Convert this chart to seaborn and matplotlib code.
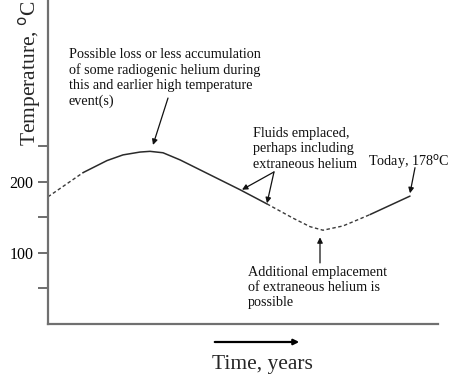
import matplotlib
matplotlib.use("Agg")
import matplotlib.pyplot as plt
import seaborn as sns
import pandas as pd

# ---- data (time in arbitrary units, temperature in degC) ----
time = [0, 35, 59, 75, 92, 102, 115, 132, 152, 192, 219, 232, 245, 262, 275, 295, 312, 322, 342, 362]
temp = [179, 213, 230, 238, 242, 243, 241, 231, 217, 189, 169, 159, 149, 137, 132, 138, 148, 154, 167, 180]
# segment boundaries (indices into the arrays) and their style
seg_bounds = [(0, 1), (1, 10), (10, 17), (17, 19)]
seg_style = ["dashed", "solid", "dashed", "solid"]

ytick_vals = [50, 100, 150, 200, 250]
ytick_labels = ["", "100", "", "200", ""]

sns.set_theme(style="white")
plt.rcParams["font.family"] = ["Liberation Serif", "DejaVu Serif"]

fig = plt.figure(figsize=(4.56, 3.86), dpi=100)
ax = fig.add_axes([48 / 456, 1 - 324 / 386, 390 / 456, 324 / 386])

df = pd.DataFrame({"time": time, "temp": temp})
for (a, b), st in zip(seg_bounds, seg_style):
    sub = df.iloc[a:b + 1]
    if st == "dashed":
        sns.lineplot(data=sub, x="time", y="temp", ax=ax, color="#3a3a3a",
                     lw=1.0, linestyle=(0, (2.5, 1.8)), sort=False)
    else:
        sns.lineplot(data=sub, x="time", y="temp", ax=ax, color="#2a2a2a",
                     lw=1.1, sort=False)

ax.set_xlim(0, 390)
ax.set_ylim(0, 456)
ax.set_xlabel("")
ax.set_ylabel("")
ax.set_xticks([])
ax.set_yticks(ytick_vals)
ax.set_yticklabels(ytick_labels, fontsize=11.5)
ax.tick_params(axis="y", direction="out", length=7, width=1.2, colors="#555555",
               labelcolor="black", pad=3.5, left=True)
for s in ["top", "right"]:
    ax.spines[s].set_visible(False)
for s in ["left", "bottom"]:
    ax.spines[s].set_color("#707070")
    ax.spines[s].set_linewidth(1.6)
ax.set_facecolor("white")

txt_kw = dict(fontsize=10.2, color="#111111", linespacing=1.22)
arr = dict(arrowstyle="-|>", color="#111111", lw=0.9, mutation_scale=8,
           shrinkA=0, shrinkB=0)

ax.text(21, 389, "Possible loss or less accumulation\nof some radiogenic helium during\n"
        "this and earlier high temperature\nevent(s)", ha="left", va="top", **txt_kw)
ax.annotate("", xy=(105, 252), xytext=(120, 318), arrowprops=arr)

ax.text(205, 277, "Fluids emplaced,\nperhaps including\nextraneous helium",
        ha="left", va="top", **txt_kw)
ax.annotate("", xy=(194, 189), xytext=(226, 214), arrowprops=arr)
ax.annotate("", xy=(219, 170), xytext=(226, 214), arrowprops=arr)

ax.text(402, 228, "Today, 178$^{\\rm o}$C", ha="right", va="center",
        clip_on=False, **txt_kw)
ax.annotate("", xy=(362, 184), xytext=(367, 220), arrowprops=arr)

ax.text(200, 82, "Additional emplacement\nof extraneous helium is\npossible",
        ha="left", va="top", **txt_kw)
ax.annotate("", xy=(272, 122), xytext=(272, 86), arrowprops=arr)

# y label
fig.text(30 / 456, 1 - 73 / 386, "Temperature, $^{\\rm o}$C", rotation=90,
         ha="center", va="center", fontsize=15.5)

# time arrow and label
fig.add_artist(matplotlib.patches.FancyArrowPatch(
    (212 / 456, 1 - 342 / 386), (302 / 456, 1 - 342 / 386),
    transform=fig.transFigure, arrowstyle="-|>", mutation_scale=8,
    color="black", lw=1.6))
fig.text(262 / 456, 1 - 365 / 386, "Time, years", ha="center", va="center",
         fontsize=15.5)

fig.savefig("out.png", dpi=100, facecolor="white")
